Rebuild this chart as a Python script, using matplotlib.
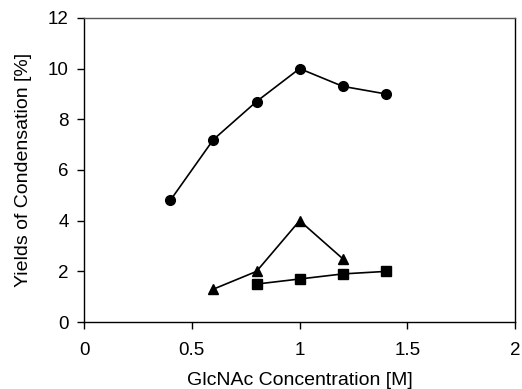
import matplotlib
matplotlib.use("Agg")
import matplotlib.pyplot as plt

# data
x_circle = [0.4, 0.6, 0.8, 1.0, 1.2, 1.4]
y_circle = [4.8, 7.2, 8.7, 10.0, 9.3, 9.0]
x_tri = [0.6, 0.8, 1.0, 1.2]
y_tri = [1.3, 2.0, 4.0, 2.5]
x_sq = [0.8, 1.0, 1.2, 1.4]
y_sq = [1.5, 1.7, 1.9, 2.0]

plt.rcParams['font.family'] = ['Liberation Sans', 'DejaVu Sans']

fig = plt.figure(figsize=(5.22, 3.89), dpi=100)
ax = fig.add_axes([0.161, 0.172, 0.826, 0.782])

ax.plot(x_circle, y_circle, color='k', lw=1.2, marker='o', ms=7)
ax.plot(x_tri, y_tri, color='k', lw=1.2, marker='^', ms=7.5)
ax.plot(x_sq, y_sq, color='k', lw=1.2, marker='s', ms=6.5)

ax.set_xlim(0, 2)
ax.set_ylim(0, 12)
ax.set_xticks([0, 0.5, 1, 1.5, 2])
ax.set_xticklabels(['0', '0.5', '1', '1.5', '2'])
ax.set_yticks(range(0, 13, 2))
ax.tick_params(direction='out', length=5, width=1, labelsize=13.5)
ax.tick_params(axis='x', pad=9)
ax.tick_params(axis='y', pad=6)
for s in ax.spines.values():
    s.set_linewidth(1)
ax.spines['top'].set_color('#555555')

ax.set_xlabel('GlcNAc Concentration [M]', fontsize=14)
ax.set_ylabel('Yields of Condensation [%]', fontsize=14)
ax.xaxis.set_label_coords(0.5, -0.165)
ax.yaxis.set_label_coords(-0.12, 0.5)

plt.savefig('out.png', dpi=100)
